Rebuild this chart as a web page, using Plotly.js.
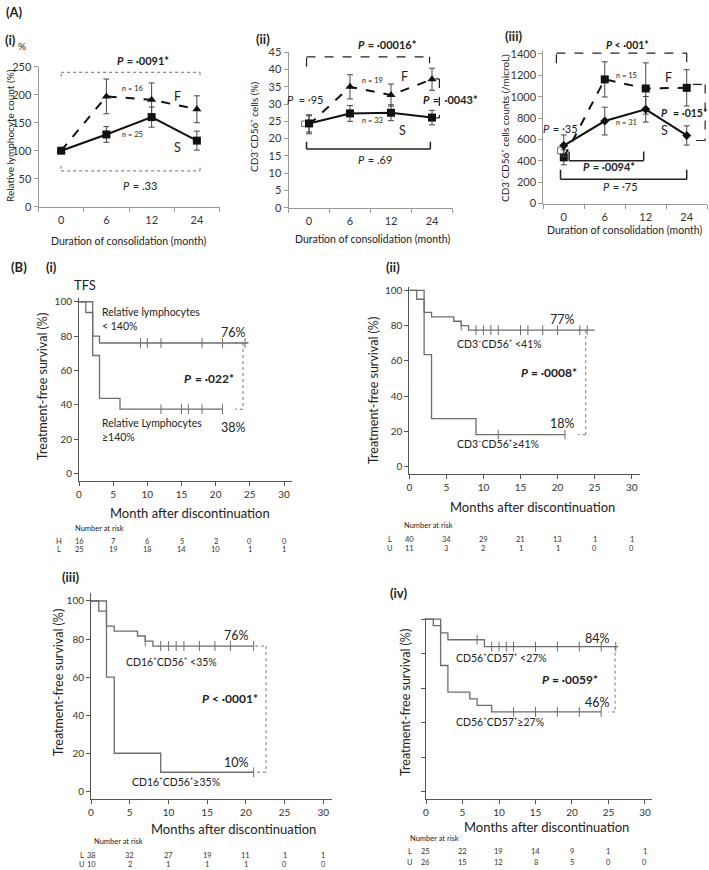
<!DOCTYPE html>
<html><head><meta charset="utf-8">
<script src="https://cdn.plot.ly/plotly-3.0.1.min.js"></script>
<style>html,body{margin:0;padding:0;background:#fff}#chart{width:709px;height:870px}</style>
</head><body><div id="chart"></div>
<script>
// ---------------- DATA ----------------
const cats = ['0','6','12','24'];
// A(i) relative lymphocyte count (%)
const a1S = [100,129,160,118], a1Se = [0,14,18,17];
const a1F = [100,197,191,174], a1Fe = [0,31,30,24];
// A(ii) CD3-CD56+ cells (%)
const a2S = [24.4,27.3,27.5,26.1], a2Se = [2.5,2.3,2.3,2.1];
const a2F = [24.0,35.0,32.6,37.2], a2Fe = [2.6,3.5,3.2,3.2];
// A(iii) CD3-CD56+ cell counts (/microL)
const a3S = [542,772,882,637], a3Se = [100,130,120,90];
const a3F = [432,1162,1077,1083], a3Fe = [70,165,240,170];

// B(i)
const b1H_t = [0,1,2,3,6,21], b1H_s = [100,93.75,68.75,43.75,37.5,37.5], b1H_c = [12,15,16,18,21];
const b1L_t = [0,2,3,24.8], b1L_s = [100,80,76,76], b1L_c = [9,10,12,18,21,24.3];
// B(ii)
const b2L_t = [0,1,2,3,6,7,8,25], b2L_s = [100,95,87.5,85,82.5,80,77.5,77.5], b2L_c = [7,9,10,11,12,15,16,18,20,23,24];
const b2U_t = [0,2,3,9,21], b2U_s = [100,63.6,27.3,18.2,18.2], b2U_c = [12,21];
// B(iii)
const b3L_t = [0,1,2,3,6,7,8,21], b3L_s = [100,94.7,86.8,84.2,81.6,78.9,76.3,76.3], b3L_c = [7,9,10,11,12,14,16,18,21];
const b3U_t = [0,2,3,9,21], b3U_s = [100,60,20,10,10], b3U_c = [21];
// B(iv)
const b4L_t = [0,2,3,8,26.3], b4L_s = [100,92,88,84,84], b4L_c = [7,9,10,11,12,15,18,21,24,26];
const b4U_t = [0,1,2,3,6,7,9,24], b4U_s = [100,96.2,73.1,57.7,53.8,50,46.2,46.2], b4U_c = [12,15,18,21,24];

// number at risk
const riskT = [0,5,10,15,20,25,30];
const r1H = [16,7,6,5,2,0,0], r1L = [25,19,18,14,10,1,1];
const r2L = [40,34,29,21,13,1,1], r2U = [11,3,2,1,1,0,0];
const r3L = [38,32,27,19,11,1,1], r3U = [10,2,1,1,1,0,0];
const r4L = [25,22,19,14,9,1,1], r4U = [26,15,12,8,5,0,0];

// ---------------- HELPERS ----------------
const W = 709, H = 870;
const X = p => p / W, Y = p => 1 - p / H;
const FONT = 'Lato, "DejaVu Sans", "Open Sans", sans-serif';
const GRAY = '#6d6d6d';
const NB = '\u00A0';

function sAt(t, ts, ss) { let v = ss[0]; for (let i = 0; i < ts.length; i++) if (ts[i] <= t) v = ss[i]; return v; }

const traces = [];
function lineSeries(xa, ya, y, e, dash, sym, size) {
  traces.push({x: cats, y: y, xaxis: xa, yaxis: ya, type: 'scatter', mode: 'lines+markers',
    line: {color: '#111', width: 2, dash: dash}, marker: {symbol: sym, size: size, color: '#111'},
    error_y: {type: 'data', array: e, visible: true, color: '#444', thickness: 1, width: 3},
    cliponaxis: false, hoverinfo: 'skip'});
}
function kmSeries(xa, ya, ts, ss, cens) {
  traces.push({x: ts, y: ss, xaxis: xa, yaxis: ya, type: 'scatter', mode: 'lines',
    line: {color: GRAY, width: 1.3, shape: 'hv'}, hoverinfo: 'skip'});
  traces.push({x: cens, y: cens.map(t => sAt(t, ts, ss)), xaxis: xa, yaxis: ya, type: 'scatter', mode: 'markers',
    marker: {symbol: 'line-ns', size: 7, color: GRAY, line: {width: 1, color: GRAY}}, hoverinfo: 'skip', cliponaxis: false});
}

const shapes = [];
function bracket(xr, yr, pts, dash, color, width) {
  for (let i = 0; i < pts.length - 1; i++) {
    shapes.push({type: 'line', xref: xr, yref: yr, x0: pts[i][0], y0: pts[i][1], x1: pts[i+1][0], y1: pts[i+1][1],
      line: {color: color, width: width, dash: dash}});
  }
}

const ann = [];
// o: {anchor, bold, italic, angle, color}
function T(text, x, y, size, o) {
  o = o || {};
  const a = {text: text, xref: 'paper', yref: 'paper', x: X(x), y: Y(y), showarrow: false,
    xanchor: o.anchor || 'center', yanchor: 'middle',
    font: {family: FONT, size: size, color: o.color || '#222', weight: o.bold ? 700 : 400, style: o.italic ? 'italic' : 'normal'}};
  if (o.angle) a.textangle = o.angle;
  ann.push(a);
}
const cvs = document.createElement('canvas').getContext('2d');
function tw(text, size, bold, italic) {
  cvs.font = (italic ? 'italic ' : '') + (bold ? 'bold ' : '') + size + 'px Lato';
  return cvs.measureText(text).width;
}
// italic first letter (P or n) followed by upright rest
function PI(ital, rest, x, y, size, bold, anchor) {
  const w1 = tw(ital, size, bold, true), w2 = tw(rest, size, bold, false);
  const left = anchor === 'left' ? x : x - (w1 + w2) / 2;
  T(ital, left, y, size, {anchor: 'left', bold: bold, italic: true});
  T(rest, left + w1 + 0.5, y, size, {anchor: 'left', bold: bold});
}
function risk(xa, rowY, vals, letter, letterX) {
  T(letter, letterX, rowY, 7.5, {color: '#333'});
  vals.forEach((v, i) => ann.push({text: String(v), xref: xa, yref: 'paper', x: riskT[i], y: Y(rowY), showarrow: false,
    xanchor: 'center', yanchor: 'middle', font: {family: FONT, size: 7.5, color: '#333'}}));
}

function catX(l, r, anchor) {
  return {domain: [X(l), X(r)], anchor: anchor, type: 'category', range: [-0.5, 3.5], tickson: 'boundaries',
    ticks: 'outside', ticklen: 4, tickcolor: '#999', showline: true, linecolor: '#999', linewidth: 1,
    showgrid: false, zeroline: false, tickfont: {family: FONT, size: 11, color: '#333'}, ticklabelstandoff: 3, fixedrange: true};
}
function aY(top, bot, anchor, range, dtick) {
  return {domain: [Y(bot), Y(top)], anchor: anchor, range: range, dtick: dtick, tick0: 0,
    ticks: 'outside', ticklen: 4, tickcolor: '#999', showline: true, linecolor: '#999', linewidth: 1,
    showgrid: false, zeroline: false, tickfont: {family: FONT, size: 11, color: '#333'}, fixedrange: true};
}
function bX(l, r, anchor, range) {
  return {domain: [X(l), X(r)], anchor: anchor, range: range, dtick: 5, tick0: 0,
    ticks: 'outside', ticklen: 4, tickcolor: '#555', showline: true, linecolor: '#555', linewidth: 1,
    showgrid: false, zeroline: false, tickfont: {family: FONT, size: 10, color: '#333'}, fixedrange: true};
}
function bY(top, bot, anchor, range, labels) {
  return {domain: [Y(bot), Y(top)], anchor: anchor, range: range, tickvals: [0,20,40,60,80,100],
    showticklabels: labels, ticks: 'outside', ticklen: 4, tickcolor: '#555', showline: true, linecolor: '#555', linewidth: 1,
    showgrid: false, zeroline: false, tickfont: {family: FONT, size: 10, color: '#333'}, fixedrange: true};
}

// ---------------- TRACES ----------------
lineSeries('x', 'y', a1F, a1Fe, 'dash', 'triangle-up', 8);
lineSeries('x', 'y', a1S, a1Se, 'solid', 'square', 8);
lineSeries('x2', 'y2', a2F, a2Fe, 'dash', 'triangle-up', 8);
lineSeries('x2', 'y2', a2S, a2Se, 'solid', 'square', 8);
lineSeries('x3', 'y3', a3F, a3Fe, 'dash', 'square', 8);
lineSeries('x3', 'y3', a3S, a3Se, 'solid', 'diamond', 7);

kmSeries('x4', 'y4', b1H_t, b1H_s, b1H_c);
kmSeries('x4', 'y4', b1L_t, b1L_s, b1L_c);
kmSeries('x5', 'y5', b2L_t, b2L_s, b2L_c);
kmSeries('x5', 'y5', b2U_t, b2U_s, b2U_c);
kmSeries('x6', 'y6', b3L_t, b3L_s, b3L_c);
kmSeries('x6', 'y6', b3U_t, b3U_s, b3U_c);
kmSeries('x7', 'y7', b4L_t, b4L_s, b4L_c);
kmSeries('x7', 'y7', b4U_t, b4U_s, b4U_c);

// ---------------- BRACKETS ----------------
bracket('x', 'y', [[0,232],[0,240],[3.07,240],[3.07,232]], 'dot', '#888', 1.2);
bracket('x', 'y', [[0,73],[0,64],[3.07,64],[3.07,73]], 'dot', '#888', 1.2);

bracket('x2', 'y2', [[-0.06,40.8],[-0.06,43.7],[2.94,43.7],[2.94,41.8]], 'dash', '#222', 1.2);
bracket('x2', 'y2', [[-0.06,19.1],[-0.06,17],[2.96,17],[2.96,19.1]], 'solid', '#222', 1.5);
bracket('x2', 'y2', [[3.08,37.3],[3.18,37.3],[3.18,26],[3.08,26]], 'dash', '#222', 1.2);
bracket('x2', 'y2', [[-0.1,25.1],[-0.18,25.1],[-0.18,23.5],[-0.1,23.5]], 'solid', '#666', 1);

bracket('x3', 'y3', [[-0.18,1313],[-0.18,1408],[3.0,1408],[3.0,1281]], 'dash', '#222', 1.2);
bracket('x3', 'y3', [[3.15,1115],[3.45,1115],[3.45,590],[3.15,590]], 'dash', '#222', 1.2);
bracket('x3', 'y3', [[0.13,486],[0.13,401],[1.95,401],[1.95,486]], 'solid', '#222', 1.5);
bracket('x3', 'y3', [[-0.08,316],[-0.08,228],[3.0,228],[3.0,316]], 'solid', '#222', 1.5);
bracket('x3', 'y3', [[-0.05,527],[-0.15,527],[-0.15,464],[-0.05,464]], 'solid', '#666', 1);

bracket('x4', 'y4', [[22.8,76],[24,76],[24,37.5],[22.8,37.5]], 'dot', '#777', 1);
bracket('x5', 'y5', [[22.8,77.5],[23.8,77.5],[23.8,18.2],[22.8,18.2]], 'dot', '#777', 1);
bracket('x6', 'y6', [[21.2,76.3],[22.6,76.3],[22.6,10],[21.2,10]], 'dot', '#777', 1);
bracket('x7', 'y7', [[25,84],[25.9,84],[25.9,46.2],[25,46.2]], 'dot', '#777', 1);

// ---------------- TEXT ----------------
const BL = {bold: true, anchor: 'left'};
const LEFT = {anchor: 'left'};
const R90 = {angle: -90};
// A(i)
T('(A)', 4, 12, 13, BL);
T('(i)', 3, 40, 13, BL);
T('%', 22, 46, 10);
T('Relative lymphocyte count (%)', 10, 136, 10, R90);
T('Duration of consolidation (month)', 128, 241, 10.5);
PI('P', NB + '=' + NB + '·0091*', 141, 60, 11, true);
PI('P', NB + '=' + NB + '.33', 138, 186, 11, false);
PI('n', NB + '=' + NB + '16', 130, 88, 7.5, false);
T('F', 177, 97, 12.5);
PI('n', NB + '=' + NB + '25', 130, 135, 7.5, false);
T('S', 177, 147, 12.5);

// A(ii)
T('(ii)', 254, 39, 13, BL);
T('CD3⁻CD56⁺ cells (%)', 254, 127, 10, R90);
T('Duration of consolidation (month)', 373, 239, 10.5);
PI('P', NB + '=' + NB + '·00016*', 385, 45, 11, true);
PI('P', NB + NB + '=' + NB + '·95', 303, 99, 11, false);
PI('n', NB + '=' + NB + '19', 370, 80, 7.5, false);
T('F', 404, 76, 12.5);
PI('P', NB + '=' + NB + NB + '·0043*', 448, 99, 11, true);
PI('n', NB + '=' + NB + '33', 370, 120, 7.5, false);
T('S', 402, 130, 12.5);
PI('P', NB + '=' + NB + '.69', 373, 159, 11, false);

// A(iii)
T('(iii)', 503, 36, 13, BL);
T('CD3⁻CD56⁺ cells counts (/microL)', 505, 128, 10, R90);
T('Duration of consolidation (month)', 624, 230, 10.5);
PI('P', NB + '<' + NB + '·001*', 625, 45.5, 10.5, true);
PI('n', NB + '=' + NB + '15', 624, 75, 7.5, false);
T('F', 668, 77, 12.5);
PI('P', NB + NB + '=' + NB + '·015*', 682, 113, 10.5, true);
PI('P', NB + '=' + NB + '·35', 558, 128, 11, false);
PI('n', NB + '=' + NB + '31', 624, 123, 7.5, false);
T('S', 664, 130, 12.5);
PI('P', NB + '=' + NB + '·0094*', 607, 167, 11, true);
PI('P', NB + '=' + NB + '·75', 618, 187, 11, false);

// B(i)
T('(B)', 9, 267, 13, BL);
T('(i)', 44, 267, 13, BL);
T('TFS', 85, 285, 13);
T('Treatment-free survival (%)', 42, 387, 12.5, R90);
T('Month after discontinuation', 190, 513, 13);
T('Number at risk', 73, 528, 7.5, LEFT);
risk('x4', 541, r1H, 'H', 59);
risk('x4', 549, r1L, 'L', 59);
T('Relative lymphocytes', 100, 312, 10.5, LEFT);
T('&lt; 140%', 100, 326, 10.5, LEFT);
T('76%', 233, 332, 12.5);
PI('P', NB + '=' + NB + '·022*', 207, 378, 12, true);
T('Relative Lymphocytes', 100, 423, 10.5, LEFT);
T('≥140%', 100, 437, 10.5, LEFT);
T('38%', 233, 427, 12.5);

// B(ii)
T('(ii)', 393, 267, 13, {bold: true});
T('Treatment-free survival (%)', 373, 390, 12.5, R90);
T('Months after discontinuation', 532, 507, 13);
T('Number at risk', 402, 525, 7.5, LEFT);
risk('x5', 539, r2L, 'L', 390);
risk('x5', 548, r2U, 'U', 390);
T('77%', 562, 319, 12.5);
T('CD3⁻CD56⁺ &lt;41%', 455, 344, 10.5, LEFT);
PI('P', NB + '=' + NB + '·0008*', 547, 373, 12, true);
T('18%', 562, 423, 12.5);
T('CD3⁻CD56⁺≥41%', 455, 444, 10.5, LEFT);

// B(iii)
T('(iii)', 60, 577, 13, BL);
T('Treatment-free survival (%)', 58, 683, 12.5, R90);
T('Months after discontinuation', 233, 829, 13);
T('Number at risk', 92, 841, 7.5, LEFT);
risk('x6', 855, r3L, 'L', 82);
risk('x6', 864, r3U, 'U', 82);
T('76%', 236, 635, 12.5);
T('CD16⁺CD56⁺ &lt;35%', 124, 662, 10.5, LEFT);
PI('P', NB + '<' + NB + '·0001*', 200, 698, 12, true, 'left');
T('10%', 236, 762, 12.5);
T('CD16⁺CD56⁺≥35%', 130, 782, 10.5, LEFT);

// B(iv)
T('(iv)', 398, 593, 13, {bold: true});
T('Treatment-free survival (%)', 405, 703, 12.5, R90);
T('Months after discontinuation', 546, 827, 13);
T('Number at risk', 408, 838, 7.5, LEFT);
risk('x7', 851, r4L, 'L', 410);
risk('x7', 862, r4U, 'U', 410);
T('84%', 597, 638, 12.5);
T('CD56⁺CD57⁺ &lt;27%', 454, 658, 10.5, LEFT);
PI('P', NB + '=' + NB + '·0059*', 540, 679, 12, true, 'left');
T('46%', 597, 702, 12.5);
T('CD56⁺CD57⁺≥27%', 454, 722, 10.5, LEFT);

// ---------------- LAYOUT ----------------
const layout = {
  width: W, height: H, margin: {l: 0, r: 0, t: 0, b: 0}, showlegend: false,
  paper_bgcolor: '#fff', plot_bgcolor: 'rgba(0,0,0,0)', font: {family: FONT, color: '#222'},
  xaxis: catX(38.5, 219.5, 'y'), yaxis: aY(66.7, 206.7, 'x', [0, 250], 50),
  xaxis2: catX(288.5, 452.5, 'y2'), yaxis2: aY(52.3, 207.7, 'x2', [0, 45], 5),
  xaxis3: catX(543.3, 707.2, 'y3'), yaxis3: aY(51.3, 203.5, 'x3', [0, 1425], 200),
  xaxis4: bX(79, 292, 'y4', [0, 31.17]), yaxis4: bY(298.3, 481, 'x4', [-4.24, 102], true),
  xaxis5: bX(409.3, 640, 'y5', [0, 31.12]), yaxis5: bY(286.9, 473.7, 'x5', [-3.97, 102], true),
  xaxis6: bX(91, 332, 'y6', [0, 31.12]), yaxis6: bY(593, 799, 'x6', [-4.05, 104.2], true),
  xaxis7: bX(426, 652, 'y7', [0, 30.96]), yaxis7: bY(618, 799, 'x7', [-4.23, 100.6], false),
  shapes: shapes, annotations: ann
};
Plotly.newPlot('chart', traces, layout, {staticPlot: true, displayModeBar: false});
</script></body></html>
